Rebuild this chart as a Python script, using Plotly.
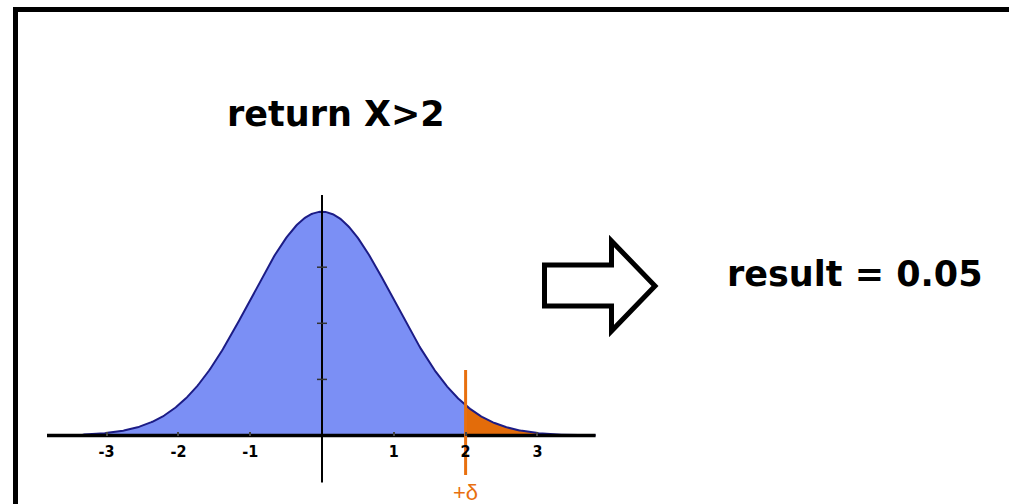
import numpy as np
import plotly.graph_objects as go

# Standard normal distribution and the tail threshold
mu, sigma = 0.0, 1.0
threshold = 2.0
x_ticks = [-3, -2, -1, 1, 2, 3]
x_tick_labels = ["-3", "-2", "-1", "1", "2", "3"]
y_ticks = [0.1, 0.2, 0.3]
x_extent = [-3.83, 3.81]
title_text = "return X>2"
result_text = "result = 0.05"
delta_label = "+δ"

W, H = 1009, 504

xs = np.linspace(x_extent[0], x_extent[1], 600)
pdf = np.exp(-0.5 * ((xs - mu) / sigma) ** 2) / (sigma * np.sqrt(2 * np.pi))
tail = xs >= threshold
xs_tail = np.concatenate([[threshold], xs[tail]])
pdf_tail = np.concatenate(
    [[np.exp(-0.5 * ((threshold - mu) / sigma) ** 2) / (sigma * np.sqrt(2 * np.pi))], pdf[tail]]
)

BLUE_FILL = "#7b8ff5"
CURVE = "#1c1c86"
ORANGE = "#e36c0a"

# pixel calibration of the data axes
x0_px, x_unit = 322.0, 71.8
y0_px, y_unit = 435.5, 561.0
x_range = [-x0_px / x_unit, (W - x0_px) / x_unit]
y_range = [-(H - y0_px) / y_unit, y0_px / y_unit]

fig = go.Figure()

fig.add_trace(go.Scatter(x=xs, y=pdf, mode="lines", fill="tozeroy",
                         fillcolor=BLUE_FILL, line=dict(width=0), hoverinfo="skip"))
fig.add_trace(go.Scatter(x=xs_tail, y=pdf_tail, mode="lines", fill="tozeroy",
                         fillcolor=ORANGE, line=dict(width=0), hoverinfo="skip"))
fig.add_trace(go.Scatter(x=xs, y=pdf, mode="lines",
                         line=dict(color=CURVE, width=2), hoverinfo="skip"))

# horizontal axis line
fig.add_trace(go.Scatter(x=x_extent, y=[0, 0], mode="lines",
                         line=dict(color="black", width=3.5), hoverinfo="skip"))
# vertical axis line
fig.add_trace(go.Scatter(x=[0, 0], y=[-0.084, 0.4287], mode="lines",
                         line=dict(color="black", width=2), hoverinfo="skip"))
# tick marks crossing the vertical axis
tx, ty = [], []
for v in y_ticks:
    tx += [-0.07, 0.07, None]
    ty += [v, v, None]
fig.add_trace(go.Scatter(x=tx, y=ty, mode="lines",
                         line=dict(color="#333333", width=1.5), hoverinfo="skip"))
# threshold marker
fig.add_trace(go.Scatter(x=[threshold, threshold], y=[-0.0704, 0.1168], mode="lines",
                         line=dict(color="#e8700f", width=3), hoverinfo="skip"))

fig.add_annotation(x=threshold, y=-(492 - y0_px) / y_unit, xref="x", yref="y", text=delta_label,
                   xanchor="center", yanchor="middle", showarrow=False, borderpad=0,
                   font=dict(family="Liberation Sans", size=22, color="#e8700f"))

fig.add_annotation(x=336 / W, y=1 - 114 / H, xref="paper", yref="paper",
                   text="<b>" + title_text.replace(">", "&gt;") + "</b>", showarrow=False,
                   xanchor="center", yanchor="middle",
                   font=dict(family="DejaVu Sans", size=35, color="black"))
fig.add_annotation(x=855 / W, y=1 - 274 / H, xref="paper", yref="paper",
                   text="<b>" + result_text + "</b>", showarrow=False,
                   xanchor="center", yanchor="middle",
                   font=dict(family="DejaVu Sans", size=35, color="black"))

# frame
fig.add_shape(type="rect", xref="paper", yref="paper",
              x0=15.5 / W, x1=1.05, y0=-0.05, y1=1 - 9.5 / H,
              line=dict(color="black", width=5), fillcolor="rgba(0,0,0,0)", layer="above")

# hollow arrow
arrow_px = [(544.5, 265), (611.5, 265), (611.5, 241), (655, 286),
            (611.5, 331), (611.5, 306), (544.5, 306)]
path = "M " + " L ".join(f"{px / W:.5f},{1 - py / H:.5f}" for px, py in arrow_px) + " Z"
fig.add_shape(type="path", xref="paper", yref="paper", path=path,
              line=dict(color="black", width=5), fillcolor="white", layer="above")

fig.update_layout(
    width=W, height=H, margin=dict(l=0, r=0, t=0, b=0),
    paper_bgcolor="white", plot_bgcolor="white", showlegend=False,
    xaxis=dict(range=x_range, anchor="free", position=1 - y0_px / H,
               showgrid=False, zeroline=False, showline=False,
               tickmode="array", tickvals=x_ticks, ticktext=x_tick_labels,
               ticks="inside", ticklen=4, tickwidth=1.5, tickcolor="#444444",
               ticklabelstandoff=4,
               tickfont=dict(family="DejaVu Sans Condensed, Liberation Sans", size=16,
                             color="black", weight="bold"),
               fixedrange=True),
    yaxis=dict(range=y_range, showgrid=False, zeroline=False, showline=False,
               showticklabels=False, ticks="", fixedrange=True),
)

fig.write_html("out.html")
